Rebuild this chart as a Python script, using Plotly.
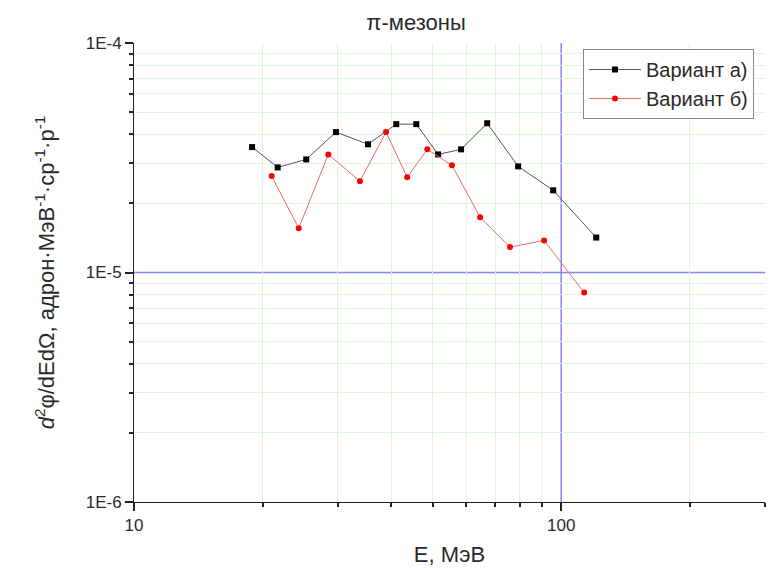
import plotly.graph_objects as go

# Data
energy_a = [18.9, 21.7, 25.3, 29.7, 35.3, 41.1, 45.8, 51.5, 58.3, 67.1, 79.3, 95.8, 120.8]
flux_a = [3.52e-5, 2.87e-5, 3.11e-5, 4.09e-5, 3.62e-5, 4.43e-5, 4.43e-5, 3.27e-5, 3.44e-5, 4.47e-5, 2.90e-5, 2.28e-5, 1.42e-5]

energy_b = [21.0, 24.3, 28.5, 33.8, 38.9, 43.6, 48.6, 55.5, 64.6, 75.9, 91.2, 113.2]
flux_b = [2.63e-5, 1.56e-5, 3.27e-5, 2.50e-5, 4.09e-5, 2.60e-5, 3.44e-5, 2.93e-5, 1.74e-5, 1.29e-5, 1.38e-5, 8.18e-6]

x_ticks = [10, 100]
x_ticktext = ["10", "100"]
x_minor = [20, 30, 40, 50, 60, 70, 80, 90, 200, 300]
y_ticks = [1e-6, 1e-5, 1e-4]
y_ticktext = ["1E-6", "1E-5", "1E-4"]
y_minor = [m * 1e-6 for m in range(2, 10)] + [m * 1e-5 for m in range(2, 10)]

FONT = "Liberation Sans, Arial, sans-serif"
TXT = "#2a2a2a"
AX = "#222222"

fig = go.Figure()
fig.add_trace(go.Scatter(
    x=energy_a, y=flux_a, mode="lines+markers", name="Вариант а)",
    line=dict(color="#555555", width=1),
    marker=dict(symbol="square", size=6, color="#000000"),
))
fig.add_trace(go.Scatter(
    x=energy_b, y=flux_b, mode="lines+markers", name="Вариант б)",
    line=dict(color="#e86a6a", width=1),
    marker=dict(symbol="circle", size=6, color="#ff0000"),
))

fig.add_vline(x=100, line=dict(color="#8484f0", width=1.5), layer="below")
fig.add_hline(y=1e-5, line=dict(color="#8484f0", width=1.5), layer="below")

fig.update_layout(
    width=779, height=569,
    margin=dict(l=134, r=14, t=43, b=67, autoexpand=False),
    paper_bgcolor="white", plot_bgcolor="white",
    font=dict(family=FONT, color=TXT, size=17),
    title=dict(text="π-мезоны", x=416/779, xref="container",
               xanchor="center", y=1 - 22/569, yanchor="middle",
               font=dict(size=22, color=TXT, family=FONT)),
    showlegend=True,
    legend=dict(x=(583 - 134) / 631, y=(502 - 49) / 459, xanchor="left", yanchor="top",
                bordercolor="#888888", borderwidth=1, bgcolor="white",
                font=dict(size=20, color=TXT, family=FONT),
                tracegroupgap=0, itemwidth=52),
)

fig.update_xaxes(
    type="log", range=[1, 2.4771], automargin=False,
    showline=True, linecolor=AX, linewidth=1, mirror=False,
    showgrid=False, zeroline=False,
    tickmode="array", tickvals=x_ticks, ticktext=x_ticktext,
    ticks="outside", ticklen=8, tickwidth=1.5, tickcolor=AX,
    tickfont=dict(size=17, color=TXT, family=FONT),
    minor=dict(tickmode="array", tickvals=x_minor, ticks="outside", ticklen=4,
               tickwidth=1.5, tickcolor=AX, showgrid=True,
               gridcolor="#dcf5dc", gridwidth=1),
    title=dict(text="E, МэВ", font=dict(size=22, color=TXT, family=FONT), standoff=12),
)
fig.update_yaxes(
    type="log", range=[-6, -4], automargin=False,
    showline=True, linecolor=AX, linewidth=1, mirror=False,
    showgrid=False, zeroline=False,
    tickmode="array", tickvals=y_ticks, ticktext=y_ticktext,
    ticks="outside", ticklen=8, tickwidth=1.5, tickcolor=AX,
    tickfont=dict(size=17, color=TXT, family=FONT),
    minor=dict(tickmode="array", tickvals=y_minor, ticks="outside", ticklen=4,
               tickwidth=1.5, tickcolor=AX, showgrid=True,
               gridcolor="#dcf5dc", gridwidth=1),
    title=dict(text="<i>d</i><sup>2</sup>φ/dEdΩ, адрон·МэВ<sup>-1</sup>·ср<sup>-1</sup>·р<sup>-1</sup>",
               font=dict(size=22, color=TXT, family=FONT), standoff=24),
)

fig.write_html("out.html")
